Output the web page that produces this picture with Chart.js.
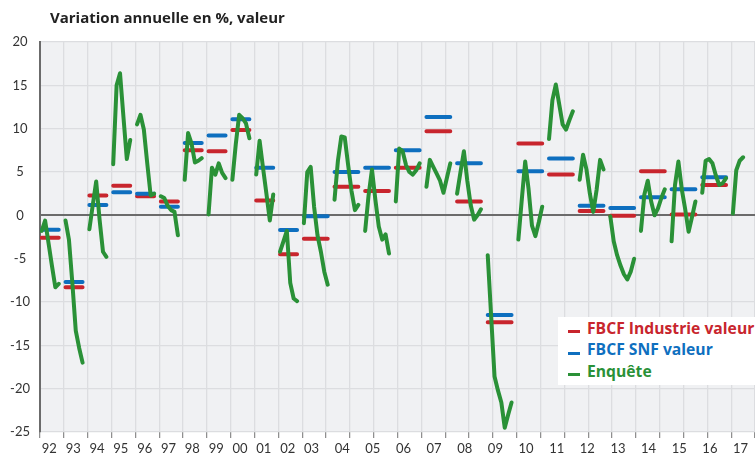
<!DOCTYPE html>
<html lang="fr">
<head>
<meta charset="utf-8">
<title>Variation annuelle en %, valeur</title>
<script src="https://cdn.jsdelivr.net/npm/chart.js@4.4.1/dist/chart.umd.min.js"></script>
<style>
  html, body { margin: 0; padding: 0; background: #fff; }
  #wrap { position: relative; width: 755px; height: 456px; font-family: 'Open Sans', 'Noto Sans', sans-serif; }
  #titre { position: absolute; left: 50px; top: 9px; font-size: 15px; font-weight: bold; color: #222; line-height: 16px; white-space: nowrap; }
  #legende { position: absolute; left: 558px; top: 317px; width: 197px; height: 68px; background: #fff; font-size: 15.7px; font-weight: bold; }
  .item { display: flex; align-items: center; height: 21.5px; margin-left: 10px; white-space: nowrap; }
  .item i { display: inline-block; width: 12px; height: 3px; margin-right: 7px; margin-top: 8px; flex: none; }
</style>
</head>
<body>
<div id="wrap">
  <canvas id="graph" width="755" height="456"></canvas>
  <div id="titre">Variation annuelle en %, valeur</div>
  <div id="legende"></div>
</div>
<script>
// Années (axe des abscisses)
const annees = ['92', '93', '94', '95', '96', '97', '98', '99', '00', '01', '02', '03', '04',
    '05', '06', '07', '08', '09', '10', '11', '12', '13', '14', '15', '16', '17'];

// FBCF annuelle (92 à 16)
const fbcfIndustrie = [-2.6, -8.3, 2.3, 3.4, 2.2, 1.6, 7.5, 7.4, 9.85, 1.7, -4.5, -2.7, 3.3,
    2.8, 5.5, 9.7, 1.6, -12.35, 8.3, 4.7, 0.5, -0.05, 5.1, 0.1, 3.5];
const fbcfSnf = [-1.65, -7.7, 1.2, 2.65, 2.5, 1.0, 8.35, 9.2, 11.1, 5.5, -1.7, -0.1, 5.0,
    5.5, 7.5, 11.35, 6.0, -11.5, 5.1, 6.55, 1.1, 0.85, 2.1, 3.0, 4.4];

// Enquête : estimations successives pour chaque année
const enquete = [
    [-1.8, -0.6, -3.2, -5.8, -8.3, -7.9],          // 92
    [-0.6, -2.8, -7.8, -13.3, -15.3, -17.0],       // 93
    [-1.6, 1.2, 3.9, -0.5, -4.2, -4.8],            // 94
    [5.9, 15.0, 16.4, 11.4, 6.5, 8.7],             // 95
    [10.5, 11.6, 9.9, 6.0, 2.3, 2.5],              // 96
    [2.2, 2.0, 1.1, 0.6, 0.4, -2.3],               // 97
    [4.1, 9.5, 8.3, 6.1, 6.3, 6.6],                // 98
    [0.1, 5.5, 4.7, 6.0, 4.9, 4.3],                // 99
    [4.1, 8.2, 11.6, 11.2, 10.6, 8.9],             // 00
    [4.7, 8.6, 5.5, 2.5, -0.6, 2.4],               // 01
    [-4.2, -3.0, -1.8, -7.8, -9.6, -9.9],          // 02
    [-0.9, 5.0, 5.6, 1.0, -2.3, -4.2, -6.5, -8.0], // 03
    [1.8, 6.3, 9.1, 9.0, 5.8, 2.8, 0.6, 1.2],      // 04
    [-1.8, 2.3, 5.3, 1.8, -1.3, -2.8, -2.2, -4.4], // 05
    [1.6, 7.7, 7.4, 5.8, 5.0, 4.7, 5.2, 6.0],      // 06
    [3.3, 6.4, 5.6, 4.8, 4.0, 2.6, 4.3, 6.0],      // 07
    [2.5, 5.0, 7.4, 4.0, 1.2, -0.5, 0.0, 0.7],     // 08
    [-4.6, -11.6, -18.6, -20.2, -21.6, -24.5, -23.0, -21.6], // 09
    [-2.8, 1.8, 6.2, 3.0, -1.2, -2.4, -0.8, 1.0],  // 10
    [8.8, 13.3, 15.1, 12.8, 10.5, 9.9, 11.0, 12.0], // 11
    [4.1, 7.0, 5.3, 2.5, 0.4, 3.0, 6.4, 5.3],      // 12
    [-0.1, -3.0, -4.6, -5.8, -6.8, -7.4, -6.5, -5.0], // 13
    [-1.8, 2.4, 4.0, 1.6, 0.0, 0.8, 2.0, 3.0],     // 14
    [-3.0, 3.5, 6.2, 3.0, 0.7, -1.9, -0.2, 1.6],   // 15
    [2.6, 6.3, 6.5, 6.0, 4.6, 3.5, 3.7, 4.3],      // 16
    [0.2, 5.2, 6.3, 6.7]                           // 17
];

const couleurs = { industrie: '#c8252d', snf: '#0e6fbf', enquete: '#2a9137' };

// Position de chaque année sur l'axe : une case par estimation + une case vide
const debuts = [];
let pos = 0;
enquete.forEach(e => { debuts.push(pos); pos += e.length + 1; });
const positionsAnnees = debuts.map(d => d + 2.75);

function paliers(valeurs) {
    const pts = [];
    valeurs.forEach((v, i) => {
        const n = enquete[i].length;
        pts.push({ x: debuts[i] + 0.5, y: v }, { x: debuts[i] + n - 0.5, y: v }, { x: debuts[i] + n, y: null });
    });
    return pts;
}

const pointsEnquete = [];
enquete.forEach((e, i) => {
    e.forEach((v, k) => pointsEnquete.push({ x: debuts[i] + k + 0.5, y: v }));
    pointsEnquete.push({ x: debuts[i] + e.length, y: null });
});

const fondPlot = {
    id: 'fondPlot',
    beforeDraw(chart) {
        const { ctx, chartArea: a } = chart;
        ctx.save();
        ctx.fillStyle = '#f0f1f3';
        ctx.fillRect(a.left, a.top, a.right - a.left, a.bottom - a.top);
        ctx.restore();
    }
};

const serie = (label, data, color, order) => ({
    label, data, order,
    borderColor: color,
    backgroundColor: color,
    borderWidth: 4,
    borderCapStyle: 'round',
    borderJoinStyle: 'round',
    pointRadius: 0,
    tension: 0,
    spanGaps: false
});

const policeAxe = { family: 'Lato, "Noto Sans", sans-serif', size: 13 };

new Chart(document.getElementById('graph'), {
    type: 'line',
    data: {
        datasets: [
            serie('FBCF Industrie valeur', paliers(fbcfIndustrie), couleurs.industrie, 2),
            serie('FBCF SNF valeur', paliers(fbcfSnf), couleurs.snf, 1),
            serie('Enquête', pointsEnquete, couleurs.enquete, 0)
        ]
    },
    options: {
        responsive: false,
        animation: false,
        devicePixelRatio: 1,
        layout: { padding: { top: 42, left: 0, right: 0, bottom: 0 } },
        plugins: { legend: { display: false }, tooltip: { enabled: false } },
        scales: {
            x: {
                type: 'linear', min: 0, max: 210, position: 'bottom', z: -1,
                ticks: { display: false, stepSize: 7 },
                grid: { color: '#dcdde0', lineWidth: 1.3, tickColor: '#8a8a8a', tickLength: 6, tickWidth: 1.2 },
                border: { display: false },
                afterFit: s => { s.height = 6; }
            },
            xl: {
                type: 'linear', min: 0, max: 210, position: 'bottom', z: -1,
                afterBuildTicks: s => { s.ticks = positionsAnnees.map(v => ({ value: v })); },
                ticks: {
                    autoSkip: false, maxRotation: 0, padding: 3, color: '#333', font: policeAxe,
                    callback: (v, i) => annees[i]
                },
                grid: { display: false, drawTicks: false },
                border: { display: false },
                afterFit: s => { s.height = 18; }
            },
            y: {
                min: -25, max: 20,
                ticks: { stepSize: 5, padding: 10, crossAlign: 'center', color: '#333', font: policeAxe },
                grid: {
                    color: c => c.tick.value === 0 ? '#6b6b6b' : '#dcdde0',
                    lineWidth: c => c.tick.value === 0 ? 2 : 1.3,
                    drawTicks: false
                },
                border: { color: '#6b6b6b', width: 2 },
                afterFit: s => { s.width = 40; }
            }
        }
    },
    plugins: [fondPlot]
});

// Légende
const legende = document.getElementById('legende');
[['FBCF Industrie valeur', couleurs.industrie], ['FBCF SNF valeur', couleurs.snf], ['Enquête', couleurs.enquete]]
    .forEach(([txt, col]) => {
        const d = document.createElement('div');
        d.className = 'item';
        d.style.color = col;
        d.innerHTML = `<i style="background:${col}"></i>${txt}`;
        legende.appendChild(d);
    });
</script>
</body>
</html>
